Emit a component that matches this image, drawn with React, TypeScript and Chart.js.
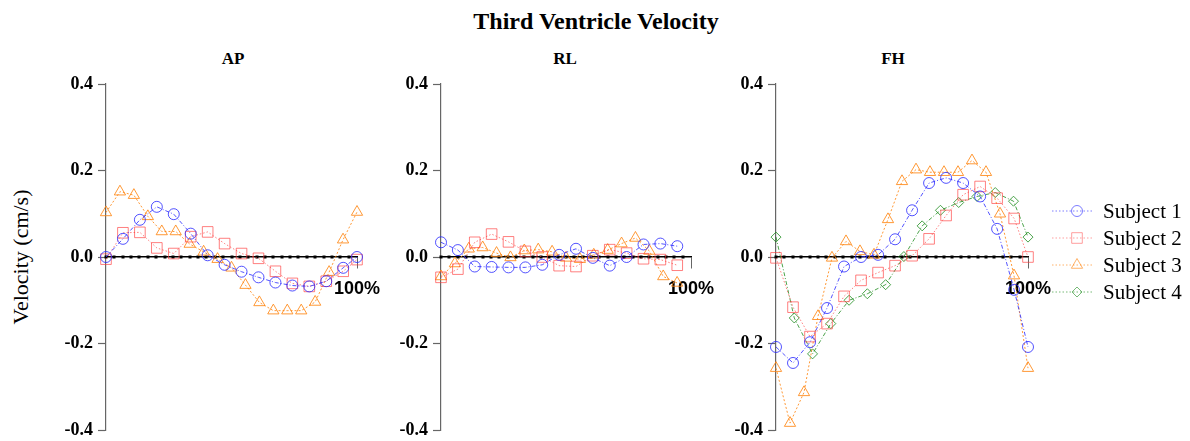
import React, { useEffect, useRef } from 'react';
import { Chart, registerables } from 'chart.js';

Chart.register(...registerables);

// ---- time points (% of cycle) ----
const tS12 = [0, 6.75, 13.5, 20.25, 27, 33.75, 40.5, 47.25, 54, 60.75, 67.5, 74.25, 81, 87.75, 94.5, 100];
const tS3 = [0, 5.56, 11.11, 16.67, 22.22, 27.78, 33.33, 38.89, 44.44, 50, 55.56, 61.11, 66.67, 72.22, 77.78, 83.33, 88.89, 94.44, 100];
const tS4 = [0, 7.25, 14.5, 21.75, 29, 36.25, 43.5, 50.75, 58, 65.25, 72.5, 79.75, 87, 94.25, 100];

// ---- AP ----
const apS1 = [0, 0.042, 0.086, 0.116, 0.099, 0.054, 0.004, -0.018, -0.034, -0.047, -0.059, -0.066, -0.068, -0.056, -0.025, 0.0];
const apS2 = [-0.005, 0.056, 0.057, 0.021, 0.008, 0.047, 0.058, 0.031, 0.008, -0.003, -0.033, -0.061, -0.068, -0.056, -0.033, -0.006];
const apS3 = [0.103, 0.151, 0.143, 0.094, 0.059, 0.059, 0.03, 0.012, -0.005, -0.025, -0.065, -0.105, -0.124, -0.124, -0.124, -0.104, -0.035, 0.04, 0.104];

// ---- RL ----
const rlS1 = [0.034, 0.016, -0.022, -0.023, -0.024, -0.024, -0.018, 0.005, 0.019, -0.002, -0.02, 0.0, 0.029, 0.031, 0.025];
const rlS2 = [-0.047, -0.028, 0.034, 0.053, 0.035, 0.013, 0.0, -0.02, -0.022, 0.003, 0.017, 0.009, -0.004, -0.006, -0.019];
const rlS3 = [-0.045, -0.015, 0.019, 0.022, 0.009, -0.001, 0.015, 0.017, 0.012, -0.002, -0.005, 0.005, 0.016, 0.031, 0.044, 0.014, -0.045, -0.06];

// ---- FH ----
const fhS1 = [-0.208, -0.245, -0.197, -0.118, -0.022, 0.0, 0.005, 0.041, 0.108, 0.171, 0.183, 0.171, 0.14, 0.065, -0.076, -0.208];
const fhS2 = [-0.002, -0.116, -0.184, -0.154, -0.091, -0.054, -0.036, -0.02, 0.003, 0.042, 0.096, 0.144, 0.163, 0.136, 0.089, 0.0];
const fhS3 = [-0.257, -0.384, -0.313, -0.137, -0.002, 0.036, 0.013, 0.005, 0.087, 0.175, 0.202, 0.196, 0.196, 0.196, 0.223, 0.196, 0.1, -0.043, -0.257];
const fhS4 = [0.046, -0.141, -0.224, -0.154, -0.1, -0.085, -0.064, 0.001, 0.072, 0.108, 0.126, 0.14, 0.149, 0.129, 0.046];

const yTicks = [-0.4, -0.2, 0, 0.2, 0.4];
const subjectNames = ['Subject 1', 'Subject 2', 'Subject 3', 'Subject 4'];

type SubjectStyle = { color: string; pointStyle: string; radius: number; dash: number[] };
const STYLES: SubjectStyle[] = [
  { color: 'rgba(40,40,255,0.8)', pointStyle: 'circle', radius: 5.5, dash: [4, 2, 1, 2] },
  { color: 'rgba(255,60,60,0.65)', pointStyle: 'rect', radius: 7.5, dash: [1.5, 2] },
  { color: 'rgba(255,135,20,0.85)', pointStyle: 'triangle', radius: 6.5, dash: [2, 2] },
  { color: 'rgba(30,140,30,0.8)', pointStyle: 'rectRot', radius: 5, dash: [4, 2, 1, 2] },
];

function makeDataset(idx: number, t: number[], v: number[]) {
  const s = STYLES[idx];
  return {
    label: subjectNames[idx],
    data: v.map((val, i) => ({ x: t[i], y: val })),
    showLine: true,
    borderColor: s.color,
    borderWidth: 1,
    borderDash: s.dash,
    backgroundColor: 'rgba(0,0,0,0)',
    pointStyle: s.pointStyle,
    pointRadius: s.radius,
    pointHoverRadius: s.radius,
    pointBorderColor: s.color,
    pointBackgroundColor: 'rgba(0,0,0,0)',
    pointBorderWidth: 1,
    clip: false,
    tension: 0,
  };
}

const axisDots = {
  id: 'axisDots',
  beforeDatasetsDraw(chart: any) {
    const { ctx, scales } = chart;
    const x = scales.x;
    const y = scales.y;
    const py = y.getPixelForValue(0);
    ctx.save();
    ctx.fillStyle = '#000';
    x.ticks.forEach((tk: any) => {
      if (tk.value >= 100) return;
      const px = x.getPixelForValue(tk.value);
      ctx.fillRect(Math.round(px) - 1.5, Math.round(py) - 1.5, 3, 3);
    });
    ctx.restore();
  },
};

function drawMarker(ctx: CanvasRenderingContext2D, style: string, x: number, y: number, r: number) {
  ctx.beginPath();
  if (style === 'circle') {
    ctx.arc(x, y, r, 0, Math.PI * 2);
  } else if (style === 'rect') {
    const s = r * Math.SQRT1_2;
    ctx.rect(x - s, y - s, 2 * s, 2 * s);
  } else if (style === 'triangle') {
    const a = (2 * Math.PI) / 3;
    ctx.moveTo(x, y - r);
    ctx.lineTo(x + Math.sin(a) * r, y - Math.cos(a) * r);
    ctx.lineTo(x + Math.sin(2 * a) * r, y - Math.cos(2 * a) * r);
    ctx.closePath();
  } else {
    ctx.moveTo(x, y - r);
    ctx.lineTo(x + r, y);
    ctx.lineTo(x, y + r);
    ctx.lineTo(x - r, y);
    ctx.closePath();
  }
  ctx.stroke();
}

function legendPlugin(originX: number, originY: number) {
  return {
    id: 'customLegend',
    afterDraw(chart: any) {
      const ctx: CanvasRenderingContext2D = chart.ctx;
      const rows = [211, 238, 265, 292];
      ctx.save();
      rows.forEach((ry, i) => {
        const s = STYLES[i];
        const y = ry - originY;
        ctx.strokeStyle = s.color;
        ctx.globalAlpha = 0.75;
        ctx.lineWidth = 1;
        ctx.setLineDash([1.5, 2]);
        ctx.beginPath();
        ctx.moveTo(1052 - originX, y);
        ctx.lineTo(1093 - originX, y);
        ctx.stroke();
        ctx.setLineDash([]);
        drawMarker(ctx, s.pointStyle, 1077 - originX, y, s.radius);
        ctx.globalAlpha = 1;
        ctx.fillStyle = '#000';
        ctx.font = '21px "Liberation Serif", "Times New Roman", serif';
        ctx.textAlign = 'left';
        ctx.textBaseline = 'middle';
        ctx.fillText(subjectNames[i], 1103 - originX, y + 1);
      });
      ctx.restore();
    },
  };
}

type PanelProps = {
  axisX: number;
  plotWidth: number;
  canvasWidth: number;
  datasets: any[];
  legend?: boolean;
};

const CANVAS_TOP = 70;
const CANVAS_H = 371;
const Y_AXIS_W = 60;

function Panel({ axisX, plotWidth, canvasWidth, datasets, legend }: PanelProps) {
  const ref = useRef<HTMLCanvasElement | null>(null);
  const left = axisX - Y_AXIS_W;
  useEffect(() => {
    if (!ref.current) return;
    const plugins: any[] = [axisDots];
    if (legend) plugins.push(legendPlugin(left, CANVAS_TOP));
    const chart = new Chart(ref.current, {
      type: 'scatter',
      data: { datasets },
      options: {
        animation: false,
        responsive: false,
        devicePixelRatio: 1,
        layout: {
          padding: { left: 0, top: 14, bottom: 11, right: canvasWidth - Y_AXIS_W - plotWidth },
        },
        plugins: {
          legend: { display: false },
          tooltip: { enabled: false },
          title: { display: false },
        },
        scales: {
          x: {
            type: 'linear',
            min: 0,
            max: 100,
            position: { y: 0 } as any,
            afterFit: (scale: any) => {
              scale.height = 0;
              scale.paddingTop = 0;
              scale.paddingBottom = 0;
              scale.paddingLeft = 0;
              scale.paddingRight = 0;
            },
            afterBuildTicks: (scale: any) => {
              const ticks = [];
              for (let i = 0; i <= 30; i++) ticks.push({ value: i === 30 ? 100 : (i * 100) / 30 });
              scale.ticks = ticks;
            },
            border: { display: true, color: '#000', width: 1.5 },
            grid: {
              display: true,
              drawOnChartArea: false,
              drawTicks: true,
              tickLength: 11,
              tickWidth: 1,
              tickColor: (ctx: any) => (ctx.tick && ctx.tick.value === 100 ? '#666' : 'rgba(0,0,0,0)'),
            },
            ticks: {
              autoSkip: false,
              maxRotation: 0,
              minRotation: 0,
              padding: 10,
              color: '#000',
              font: { family: '"Liberation Sans", Arial, sans-serif', size: 18, weight: 'bold' },
              callback: (value: any) => (value === 100 ? '100%' : ''),
            },
          },
          y: {
            type: 'linear',
            min: -0.4,
            max: 0.4,
            position: 'left',
            afterFit: (scale: any) => {
              scale.width = Y_AXIS_W;
              scale.paddingTop = 0;
              scale.paddingBottom = 0;
            },
            afterBuildTicks: (scale: any) => {
              scale.ticks = yTicks.map((v) => ({ value: v }));
            },
            border: { display: true, color: '#666', width: 1.2 },
            grid: {
              display: true,
              drawOnChartArea: false,
              drawTicks: true,
              tickLength: 8,
              tickWidth: 1.2,
              tickColor: '#666',
            },
            ticks: {
              padding: 5,
              color: '#000',
              font: { family: '"Liberation Serif", "Times New Roman", serif', size: 18, weight: 'bold' },
              callback: (value: any) => Number(value).toFixed(1).replace('-0.0', '0.0'),
            },
          },
        },
      } as any,
      plugins,
    });
    return () => chart.destroy();
  }, []);
  return (
    <canvas
      ref={ref}
      width={canvasWidth}
      height={CANVAS_H}
      style={{ position: 'absolute', left, top: CANVAS_TOP, width: canvasWidth, height: CANVAS_H }}
    />
  );
}

const serif = '"Liberation Serif", "Times New Roman", serif';

function Label({ x, y, text, size, bold, rotate }: { x: number; y: number; text: string; size: number; bold?: boolean; rotate?: boolean }) {
  return (
    <div
      style={{
        position: 'absolute',
        left: x,
        top: y,
        transform: `translate(-50%, -50%)${rotate ? ' rotate(-90deg)' : ''}`,
        fontFamily: serif,
        fontSize: size,
        fontWeight: bold ? 'bold' : 'normal',
        lineHeight: 1,
        whiteSpace: 'nowrap',
        color: '#000',
      }}
    >
      {text}
    </div>
  );
}

export default function App() {
  const apData = [makeDataset(0, tS12, apS1), makeDataset(1, tS12, apS2), makeDataset(2, tS3, apS3)];
  const rlData = [makeDataset(0, tS12, rlS1), makeDataset(1, tS12, rlS2), makeDataset(2, tS3, rlS3)];
  const fhData = [
    makeDataset(0, tS12, fhS1),
    makeDataset(1, tS12, fhS2),
    makeDataset(2, tS3, fhS3),
    makeDataset(3, tS4, fhS4),
  ];
  return (
    <div style={{ position: 'absolute', left: 0, top: 0, width: 1190, height: 441, background: '#fff', overflow: 'hidden' }}>
      <Label x={596} y={21} text="Third Ventricle Velocity" size={24} bold />
      <Label x={233} y={58} text="AP" size={17} bold />
      <Label x={565} y={58} text="RL" size={17} bold />
      <Label x={893} y={58} text="FH" size={17} bold />
      <Label x={21} y={257} text="Velocity (cm/s)" size={22} rotate />
      <Panel axisX={106} plotWidth={251} canvasWidth={356} datasets={apData} />
      <Panel axisX={441} plotWidth={250} canvasWidth={356} datasets={rlData} />
      <Panel axisX={776} plotWidth={252} canvasWidth={474} datasets={fhData} legend />
    </div>
  );
}
